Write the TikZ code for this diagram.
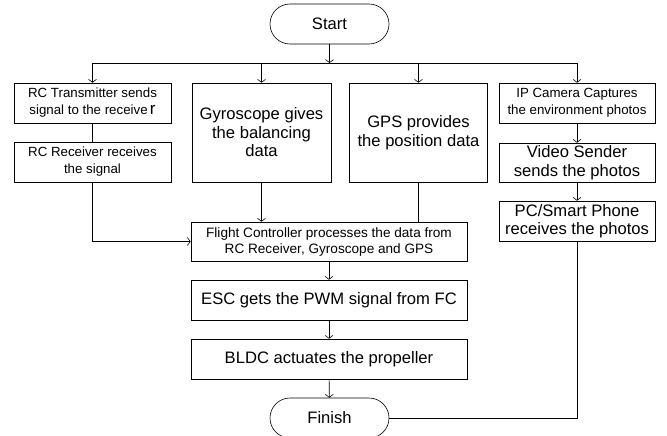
\documentclass[tikz,border=0pt]{standalone}
\usepackage{fontspec}
\setmainfont{Liberation Sans}
\usetikzlibrary{arrows.meta}

\begin{document}
\begin{tikzpicture}[
		>={Straight Barb[length=3pt,width=8pt]},
		line width=0.6pt,
		box/.style = {draw, inner sep=0pt, align=center},
		term/.style = {box, rounded corners=20pt, minimum width=119pt, minimum height=40pt},
		small/.style = {font=\fontsize{13.3}{17}\selectfont},
		mid/.style = {font=\fontsize{13.6}{16}\selectfont},
		big/.style = {font=\fontsize{16.6}{18.5}\selectfont}
	]
	\useasboundingbox (0pt, 0pt) rectangle (667pt, -436pt);

	% start and finish
	\node[term, big] (start) at (329.5pt, -24pt) {Start};
	\node[term, big] (finish) at (329.5pt, -418pt) {Finish};

	% remote control branch
	\node[box, small, minimum width=157pt, minimum height=40pt] (rctx) at (92.5pt, -103pt)
		{RC Transmitter sends\\signal to the receive\,{\fontsize{17}{17}\selectfont r}};
	\node[box, small, minimum width=157pt, minimum height=40pt] (rcrx) at (92.5pt, -162pt)
		{RC Receiver receives\\the signal};

	% sensors
	\node[box, big, minimum width=139pt, minimum height=99pt] (gyro) at (261.5pt, -132.5pt)
		{Gyroscope gives\\the balancing\\data};
	\node[box, big, minimum width=138pt, minimum height=99pt] (gps) at (418.5pt, -132.5pt)
		{GPS provides\\the position data};

	% camera branch
	\node[box, small, minimum width=156pt, minimum height=40pt] (ipcam) at (577pt, -103pt)
		{IP Camera Captures\\the environment photos};
	\node[box, big, minimum width=156pt, minimum height=39pt] (video) at (577pt, -162.5pt)
		{Video Sender\\sends the photos};
	\node[box, big, minimum width=156pt, minimum height=40pt] (pc) at (577pt, -221pt)
		{PC/Smart Phone\\receives the photos};

	% flight chain
	\node[box, mid, minimum width=276pt, minimum height=39pt] (fc) at (329pt, -241.5pt)
		{Flight Controller processes the data from\\RC Receiver, Gyroscope and GPS};
	\node[box, big, minimum width=276pt, minimum height=40pt] (esc) at (329pt, -300pt)
		{ESC gets the PWM signal from FC};
	\node[box, big, minimum width=276pt, minimum height=40pt] (bldc) at (329pt, -359pt)
		{BLDC actuates the propeller};

	% split line under start
	\coordinate (split) at (329.5pt, -63pt);
	\draw[->] (start) -- (split);
	\draw (split -| rctx) -- (split -| ipcam);
	\draw[->] (split -| rctx) -- (rctx);
	\draw[->] (split -| gyro) -- (gyro);
	\draw[->] (split -| gps) -- (gps);
	\draw[->] (split -| ipcam) -- (ipcam);

	% arrows
	\draw (rctx) -- (rcrx);
	\draw[->] (rcrx.south) |- (fc.west);
	\draw[->] (gyro.south) -- (gyro.south |- fc.north);
	\draw (gps.south) -- (gps.south |- fc.north);
	\draw[->] (fc) -- (esc);
	\draw[->] (esc) -- (bldc);
	\draw[->] (bldc) -- (finish);
	\draw[->] (ipcam) -- (video);
	\draw[->] (video) -- (pc);
	\draw (pc.south) |- (finish.east);

\end{tikzpicture}
\end{document}
